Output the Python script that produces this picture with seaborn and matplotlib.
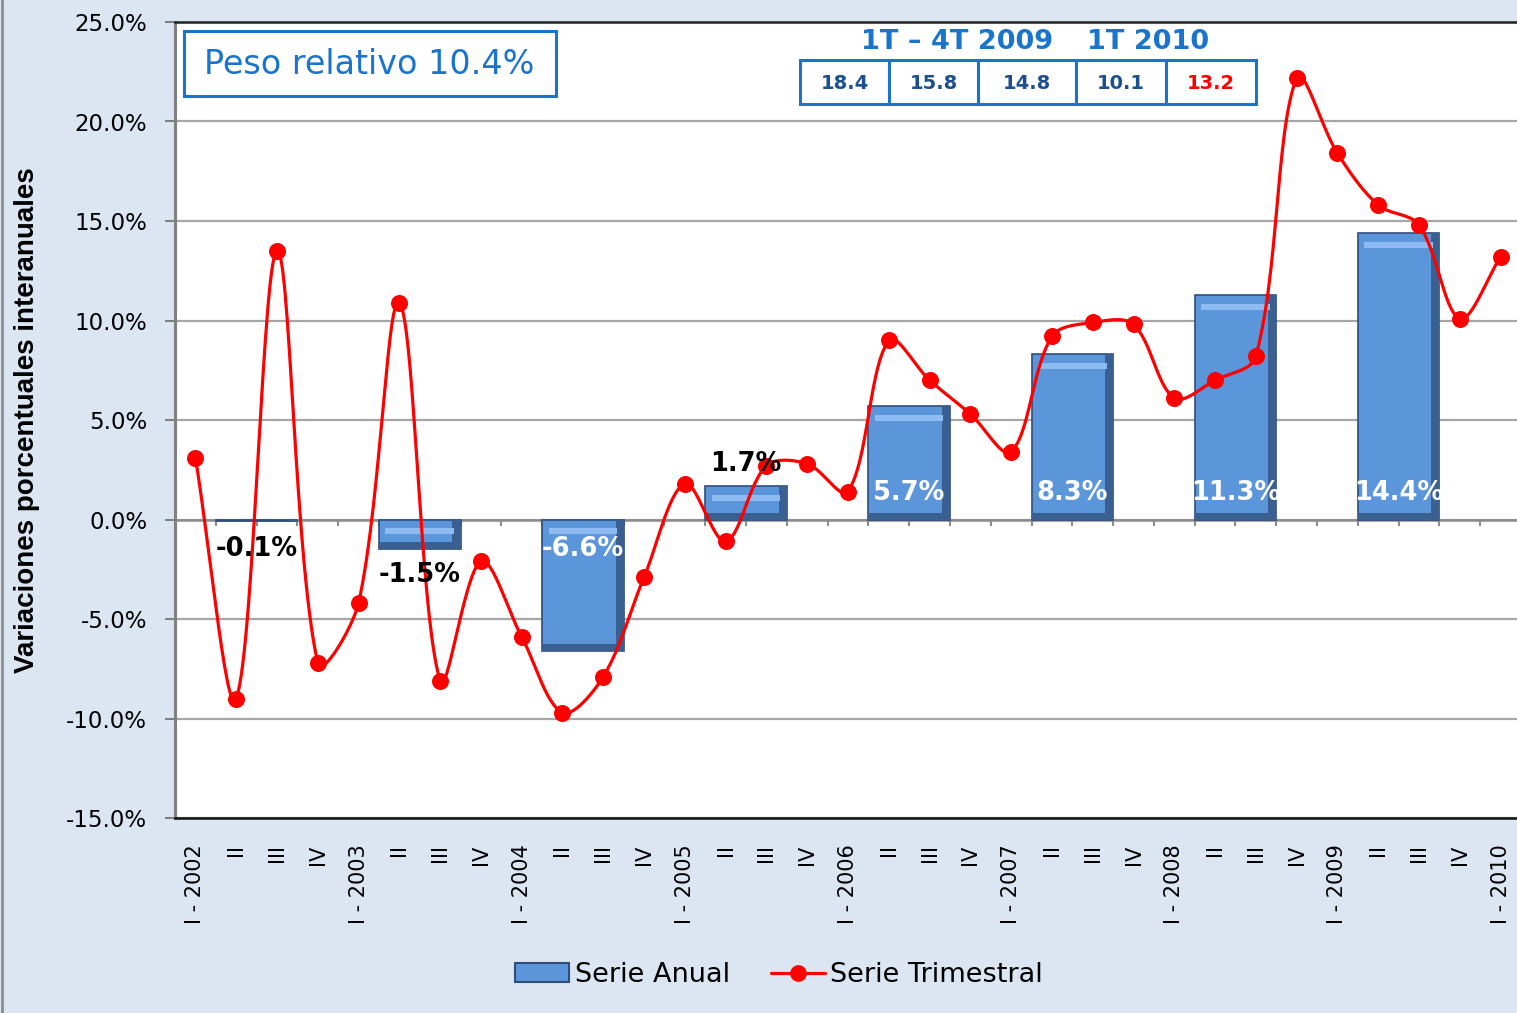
"""
Variaciones porcentuales interanuales: serie anual (barras) y trimestral (línea).
"""

import numpy as np
import matplotlib
matplotlib.use("Agg")
import matplotlib.pyplot as plt
from matplotlib.patches import Rectangle, Patch
from matplotlib.lines import Line2D
import seaborn as sns

### Data ###

quarter_labels = []
for year in range(2002, 2010):
    quarter_labels += ["I - %d" % year, "II", "III", "IV"]
quarter_labels.append("I - 2010")

quarterly = [3.1, -9.0, 13.5, -7.2,
             -4.2, 10.9, -8.1, -2.1,
             -5.9, -9.7, -7.9, -2.9,
             1.8, -1.1, 2.7, 2.8,
             1.4, 9.0, 7.0, 5.3,
             3.4, 9.2, 9.9, 9.8,
             6.1, 7.0, 8.2, 22.2,
             18.4, 15.8, 14.8, 10.1,
             13.2]

years = [2002, 2003, 2004, 2005, 2006, 2007, 2008, 2009]
annual = [-0.1, -1.5, -6.6, 1.7, 5.7, 8.3, 11.3, 14.4]

table_header = ["1T \u2013 4T 2009", "1T 2010"]
table_values = ["18.4", "15.8", "14.8", "10.1", "13.2"]
peso_relativo = "Peso relativo 10.4%"

BG = "#DCE6F2"
BAR = "#5B95DA"
BAR_EDGE = "#2E4D7B"
BAR_LIGHT = "#8EBCF2"
BAR_DARK = "#3A5F91"
RED = "#FF0000"
BLUE = "#1874CD"
DARK_BLUE = "#1B4F8F"

### Helpers ###

def smooth_curve(values, sx=40.8, sy=20.0, n=30):
    """Excel-like smoothed line: Bezier segments whose control arms are
    split by the pixel length of the neighbouring segments."""
    pts = np.column_stack([np.arange(len(values)) * sx,
                           np.asarray(values, float) * sy])
    npts = len(pts)
    out_ctrl = np.zeros_like(pts)
    in_ctrl = np.zeros_like(pts)
    for i in range(npts):
        prev_p = pts[max(i - 1, 0)]
        next_p = pts[min(i + 1, npts - 1)]
        d = next_p - prev_p
        l_prev = np.linalg.norm(pts[i] - prev_p)
        l_next = np.linalg.norm(next_p - pts[i])
        tot = l_prev + l_next
        if tot == 0:
            tot = 1.0
        out_ctrl[i] = pts[i] + d * (l_next / tot) / 3
        in_ctrl[i] = pts[i] - d * (l_prev / tot) / 3
    t = np.linspace(0, 1, n, endpoint=False)[:, None]
    segs = []
    for i in range(npts - 1):
        p1, c1, c2, p2 = pts[i], out_ctrl[i], in_ctrl[i + 1], pts[i + 1]
        segs.append(((1 - t) ** 3) * p1 + 3 * ((1 - t) ** 2) * t * c1
                    + 3 * (1 - t) * t ** 2 * c2 + t ** 3 * p2)
    segs.append(pts[-1:])
    out = np.vstack(segs)
    return out[:, 0] / sx, out[:, 1] / sy

### Figure ###

sns.set_style("white")
plt.rcParams["font.family"] = ["DejaVu Sans"]
plt.rcParams["text.color"] = "black"
plt.rcParams["axes.labelcolor"] = "black"

W, H = 1517, 1013
fig = plt.figure(figsize=(W / 100, H / 100), dpi=100, facecolor=BG)
ax = fig.add_axes([175 / W, (H - 818) / H, (1521 - 175) / W, (818 - 22) / H])
ax.set_facecolor("white")

x_q = np.arange(len(quarterly))
bar_centers = [4 * (y - years[0]) + 1.5 for y in years]

# annual bars
sns.barplot(x=bar_centers, y=annual, native_scale=True, width=0.5,
            color=BAR, saturation=1, edgecolor=BAR_EDGE, linewidth=1.2,
            errorbar=None, ax=ax, zorder=2)

# bevel look: darker right side and light band under the top edge
for bar in list(ax.patches):
    bx, by = bar.get_x(), bar.get_y()
    bw, bh = bar.get_width(), bar.get_height()
    top = by + bh if bh >= 0 else by
    bottom = by if bh >= 0 else by + bh
    hgt = top - bottom
    ax.add_patch(Rectangle((bx + bw * 0.9, bottom), bw * 0.1, hgt,
                           facecolor=BAR_DARK, lw=0, zorder=2.1))
    ax.add_patch(Rectangle((bx, bottom), bw, min(0.35, hgt * 0.25),
                           facecolor=BAR_DARK, lw=0, zorder=2.1))
    if hgt > 1:
        ax.add_patch(Rectangle((bx + bw * 0.08, top - 0.75), bw * 0.84, 0.3,
                               facecolor=BAR_LIGHT, lw=0, zorder=2.2))

# quarterly smoothed line
xs, ys = smooth_curve(quarterly)
ax.plot(xs, ys, color=RED, lw=2.3, zorder=4, solid_capstyle="round")
sns.scatterplot(x=x_q, y=quarterly, color=RED, s=150, edgecolor=RED,
                linewidth=0, ax=ax, zorder=5)

# bar labels
lab = dict(ha="center", va="center", fontsize=18.5, fontweight="bold", zorder=6)
for xc, v in zip(bar_centers, annual):
    txt = "%.1f%%" % v
    if v < -5:
        ax.text(xc, -1.5, txt, color="white", **lab)
    elif v < -1:
        ax.text(xc, v - 1.3, txt, color="black", **lab)
    elif v < 0:
        ax.text(xc, -1.5, txt, color="black", **lab)
    elif v < 3:
        ax.text(xc, v + 1.1, txt, color="black", **lab)
    else:
        ax.text(xc, 1.35, txt, color="white", **lab)

# axes
ax.set_xlim(-0.5, 32.5)
ax.set_ylim(-15, 25)
ax.set_yticks(np.arange(-15, 26, 5))
ax.set_yticklabels(["%.1f%%" % v for v in np.arange(-15, 26, 5)], fontsize=16.5)
ax.set_xticks(x_q)
ax.set_xticklabels(quarter_labels, rotation=90, fontsize=15)
ax.tick_params(axis="x", length=0, pad=19, labelcolor="black")
ax.tick_params(axis="y", length=7, width=1.5, color="#808080", pad=13,
               left=True, labelcolor="black")
ax.grid(axis="y", color="#A6A6A6", lw=1.6)
ax.set_axisbelow(True)
ax.axhline(0, color="#8C8C8C", lw=1.8, zorder=1.5)
ax.vlines(x_q + 0.5, -0.35, 0, color="#8C8C8C", lw=1.5, zorder=1.5)
ax.set_xlabel("")
ax.set_ylabel("Variaciones porcentuales interanuales", fontsize=20,
              fontweight="bold", family=["Liberation Sans", "DejaVu Sans"])
ax.yaxis.set_label_coords(-0.100, 0.5)

ax.spines["left"].set_color("#808080")
ax.spines["left"].set_linewidth(2.2)
ax.spines["top"].set_color("#222222")
ax.spines["top"].set_linewidth(1.8)
ax.spines["bottom"].set_color("#111111")
ax.spines["bottom"].set_linewidth(1.8)
ax.spines["right"].set_visible(False)

# legend
handles = [Patch(facecolor=BAR, edgecolor=BAR_EDGE, linewidth=1.5),
           Line2D([], [], color=RED, lw=2.3, marker="o", markersize=11)]
leg = fig.legend(handles, ["Serie Anual", "Serie Trimestral"], loc="center",
                 bbox_to_anchor=(779 / W, 1 - 975 / H), ncol=2, frameon=False,
                 fontsize=19.5, handlelength=2.0, handletextpad=0.2,
                 columnspacing=1.5)
for t in leg.get_texts():
    t.set_color("black")

# "Peso relativo" box
def fx(px):
    return px / W

def fy(py):
    return 1 - py / H

fig.add_artist(Rectangle((fx(184), fy(96)), fx(556) - fx(184), fy(31) - fy(96),
                         transform=fig.transFigure, facecolor="white",
                         edgecolor=BLUE, lw=2.2, zorder=10))
fig.text(fx(369), fy(65), peso_relativo, ha="center", va="center",
         color=BLUE, fontsize=24, zorder=11)

# table of 2009-2010 quarterly values
edges = [800, 889, 978, 1076, 1166, 1256]
for i, val in enumerate(table_values):
    fig.add_artist(Rectangle((fx(edges[i]), fy(104)), fx(edges[i + 1]) - fx(edges[i]),
                             fy(60) - fy(104), transform=fig.transFigure,
                             facecolor="white", edgecolor=BLUE, lw=2.2, zorder=10))
    fig.text(fx((edges[i] + edges[i + 1]) / 2), fy(83), val, ha="center",
             va="center", fontsize=14, fontweight="bold",
             color=RED if i == len(table_values) - 1 else DARK_BLUE, zorder=11)
fig.text(fx(957), fy(42), table_header[0], ha="center", va="center",
         fontsize=19.5, fontweight="bold", color=BLUE, zorder=11)
fig.text(fx(1148), fy(42), table_header[1], ha="center", va="center",
         fontsize=19.5, fontweight="bold", color=BLUE, zorder=11)

# left border of the chart area
fig.add_artist(Line2D([1.5 / W, 1.5 / W], [0, 1], transform=fig.transFigure,
                      color="#8C8C8C", lw=2))

fig.savefig("out.png", dpi=100, facecolor=BG)
